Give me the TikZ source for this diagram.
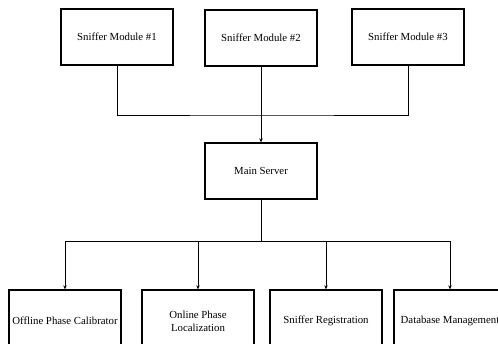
\documentclass[tikz,border=0pt]{standalone}
\usepackage{fontspec}
\setmainfont{Liberation Serif}
\usepackage{tikz}
\usetikzlibrary{arrows.meta}

\begin{document}
\begin{tikzpicture}[
  x=1pt, y=-1pt,
  block/.style={
    draw,
    line width=1.3pt,
    minimum width=112pt,
    minimum height=56pt,
    inner sep=1pt,
    align=center,
    font=\fontsize{10.8}{13}\selectfont
  },
  link/.style={
    line width=0.9pt
  },
  arrow/.style={
    link,
    -{Stealth[length=4pt, width=3.5pt]}
  }
]
\useasboundingbox (0,0) rectangle (498,343);

% Sniffer modules on top
\node[block] (sm1) at (117,37) {Sniffer Module \#1};
\node[block] (sm2) at (261,38) {Sniffer Module \#2};
\node[block] (sm3) at (408,37) {Sniffer Module \#3};

% Server
\node[block] (server) at (261,171) {Main Server};

% Services below the server
\node[block, minimum height=62pt] (calib) at (65,321) {Offline Phase Calibrator};
\node[block, minimum height=62pt] (online) at (198,321) {Online Phase\\Localization};
\node[block, minimum height=62pt] (reg) at (326,321) {Sniffer Registration};
\node[block, minimum height=62pt] (dbm) at (450,321) {Database Management};

% Modules to server
\coordinate (join) at (261,115);
\draw[link] (sm1.south) |- (join) -| (sm3.south);
\draw[arrow] (sm2) -- (server);

% Server to services
\coordinate (split) at (261,241);
\draw[link] (server) -- (split);
\draw[arrow] (split) -| (calib);
\draw[arrow] (split) -| (online);
\draw[arrow] (split) -| (reg);
\draw[arrow] (split) -| (dbm);
\end{tikzpicture}
\end{document}
